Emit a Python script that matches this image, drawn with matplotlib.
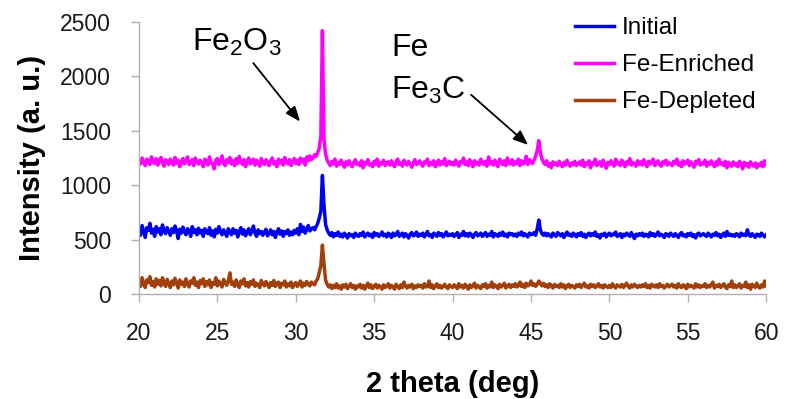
import numpy as np
import matplotlib
matplotlib.use("Agg")
import matplotlib.pyplot as plt

plt.rcParams['font.family'] = ['Liberation Sans', 'DejaVu Sans']
plt.rcParams['mathtext.fontset'] = 'custom'
plt.rcParams['mathtext.rm'] = 'Liberation Sans'
plt.rcParams['mathtext.it'] = 'Liberation Sans:italic'

# ---------------- DATA ----------------
# scan 20..60 deg, 0.1 deg step
two_theta = np.round(np.arange(20.0, 60.05, 0.1), 1)

enriched = [
    1230, 1195, 1250, 1210, 1180, 1240, 1225, 1190, 1260, 1215, 1200, 1245, 1185, 1230, 1255, 1205, 1175, 1235, 1220, 1190,
    1240, 1210, 1185, 1255, 1200, 1230, 1170, 1215, 1245, 1195, 1225, 1260, 1190, 1205, 1235, 1180, 1250, 1215, 1195, 1230,
    1205, 1170, 1240, 1225, 1185, 1260, 1210, 1195, 1150, 1230, 1245, 1190, 1215, 1270, 1200, 1180, 1235, 1210, 1255, 1195,
    1225, 1180, 1245, 1200, 1265, 1215, 1190, 1235, 1170, 1220, 1250, 1195, 1210, 1240, 1185, 1230, 1205, 1175, 1245, 1215,
    1190, 1235, 1210, 1180, 1225, 1250, 1195, 1215, 1170, 1240, 1205, 1230, 1185, 1255, 1210, 1195, 1235, 1180, 1220, 1245,
    1200, 1230, 1190, 1250, 1215, 1240, 1185, 1260, 1225, 1270, 1235, 1250, 1280, 1265, 1300, 1340, 1450, 2420, 1420, 1290,
    1230, 1205, 1180, 1220, 1195, 1240, 1175, 1210, 1190, 1230, 1200, 1165, 1215, 1185, 1225, 1195, 1170, 1210, 1235, 1190,
    1205, 1180, 1225, 1160, 1210, 1195, 1235, 1185, 1200, 1170, 1220, 1190, 1240, 1175, 1210, 1195, 1230, 1180, 1205, 1215,
    1185, 1225, 1195, 1170, 1215, 1240, 1190, 1205, 1175, 1230, 1200, 1185, 1220, 1195, 1165, 1210, 1235, 1190, 1200, 1225,
    1195, 1175, 1215, 1205, 1240, 1180, 1210, 1190, 1225, 1170, 1200, 1230, 1185, 1215, 1195, 1245, 1180, 1205, 1220, 1190,
    1210, 1185, 1230, 1195, 1175, 1220, 1205, 1250, 1190, 1215, 1180, 1235, 1200, 1170, 1225, 1195, 1210, 1185, 1240, 1205,
    1190, 1220, 1175, 1260, 1200, 1215, 1185, 1230, 1195, 1170, 1240, 1210, 1190, 1225, 1180, 1250, 1205, 1195, 1235, 1185,
    1215, 1200, 1240, 1180, 1225, 1195, 1210, 1265, 1190, 1235, 1215, 1200, 1230, 1270, 1320, 1410, 1300, 1240, 1210, 1190,
    1225, 1175, 1200, 1160, 1215, 1190, 1205, 1180, 1220, 1195, 1170, 1210, 1185, 1230, 1195, 1175, 1205, 1190, 1220, 1180,
    1200, 1215, 1185, 1230, 1170, 1205, 1190, 1225, 1160, 1210, 1195, 1240, 1180, 1200, 1215, 1175, 1230, 1195, 1155, 1210,
    1190, 1225, 1200, 1175, 1240, 1195, 1210, 1180, 1230, 1205, 1170, 1215, 1195, 1245, 1185, 1210, 1200, 1175, 1225, 1190,
    1215, 1185, 1235, 1200, 1170, 1220, 1195, 1210, 1240, 1180, 1205, 1225, 1190, 1175, 1215, 1200, 1230, 1185, 1210, 1195,
    1180, 1220, 1200, 1240, 1185, 1210, 1170, 1225, 1195, 1205, 1230, 1180, 1215, 1190, 1165, 1220, 1200, 1235, 1185, 1205,
    1195, 1230, 1175, 1210, 1190, 1225, 1200, 1170, 1215, 1185, 1240, 1195, 1205, 1180, 1220, 1160, 1210, 1190, 1175, 1215,
    1185, 1200, 1170, 1220, 1195, 1150, 1210, 1180, 1200, 1165, 1215, 1190, 1175, 1205, 1160, 1195, 1180, 1210, 1170, 1225,
    1190,
]

initial = [
    600, 540, 630, 575, 520, 610, 585, 650, 560, 595, 530, 620, 570, 600, 545, 635, 580, 555, 610, 575,
    540, 600, 565, 625, 580, 510, 595, 560, 615, 570, 545, 600, 580, 530, 620, 565, 590, 545, 605, 560,
    585, 530, 600, 570, 555, 610, 540, 580, 525, 595, 560, 620, 575, 545, 590, 560, 530, 600, 570, 545,
    600, 560, 585, 525, 575, 610, 550, 590, 535, 570, 600, 545, 580, 625, 560, 530, 590, 555, 575, 540,
    570, 595, 535, 560, 590, 545, 575, 520, 565, 600, 550, 580, 530, 575, 555, 590, 540, 570, 545, 585,
    560, 600, 545, 640, 575, 615, 560, 595, 630, 580, 600, 610, 590, 620, 650, 700, 760, 1090, 820, 640,
    590, 560, 540, 565, 525, 555, 540, 570, 530, 550, 525, 560, 540, 515, 555, 535, 545, 520, 560, 540,
    530, 555, 540, 570, 525, 545, 560, 535, 550, 520, 565, 540, 555, 530, 545, 570, 535, 550, 525, 560,
    545, 520, 560, 535, 550, 575, 530, 545, 560, 525, 555, 540, 515, 550, 565, 535, 545, 570, 530, 550,
    540, 560, 525, 550, 575, 535, 545, 520, 560, 550, 530, 565, 540, 555, 525, 545, 570, 535, 550, 540,
    555, 530, 545, 565, 520, 550, 540, 575, 535, 555, 530, 560, 545, 520, 550, 565, 535, 545, 560, 530,
    545, 565, 530, 550, 540, 575, 525, 555, 545, 530, 560, 540, 570, 535, 550, 525, 560, 545, 555, 535,
    550, 530, 560, 545, 570, 535, 555, 540, 525, 560, 545, 550, 565, 540, 600, 680, 590, 555, 540, 560,
    535, 555, 540, 525, 560, 545, 530, 565, 550, 535, 555, 520, 545, 570, 540, 550, 530, 560, 545, 525,
    555, 540, 565, 530, 550, 520, 545, 560, 535, 555, 540, 570, 530, 545, 515, 550, 540, 560, 525, 545,
    560, 535, 550, 545, 570, 530, 540, 555, 520, 550, 535, 560, 545, 530, 565, 540, 510, 550, 535, 555,
    540, 560, 530, 550, 545, 525, 565, 540, 555, 530, 545, 570, 535, 550, 540, 520, 555, 545, 530, 560,
    545, 530, 555, 540, 520, 550, 565, 535, 545, 525, 555, 540, 560, 530, 545, 515, 550, 560, 535, 545,
    555, 540, 530, 560, 545, 525, 550, 540, 565, 535, 550, 520, 545, 560, 530, 575, 540, 550, 535, 545,
    530, 555, 545, 525, 560, 540, 550, 535, 590, 545, 530, 555, 540, 520, 550, 545, 530, 560, 540, 525,
    545,
]

depleted = [
    120, 70, 150, 95, 60, 130, 105, 160, 80, 115, 65, 140, 90, 125, 75, 150, 100, 70, 135, 95,
    60, 120, 85, 145, 100, 55, 130, 90, 110, 70, 140, 95, 65, 120, 100, 150, 80, 110, 60, 125,
    95, 140, 70, 115, 85, 130, 60, 105, 90, 150, 75, 120, 95, 65, 135, 100, 80, 125, 195, 90,
    110, 70, 130, 85, 60, 120, 95, 140, 75, 105, 65, 115, 90, 130, 70, 100, 85, 60, 125, 95,
    75, 115, 90, 60, 105, 80, 125, 70, 95, 110, 60, 100, 85, 120, 65, 95, 75, 110, 60, 90,
    105, 70, 95, 120, 65, 100, 80, 115, 90, 75, 110, 95, 85, 120, 140, 200, 260, 450, 280, 130,
    90, 65, 85, 50, 80, 60, 95, 55, 75, 45, 85, 65, 90, 50, 70, 95, 60, 80, 45, 75,
    65, 90, 55, 80, 45, 75, 100, 60, 85, 50, 70, 90, 55, 80, 65, 45, 85, 60, 75, 95,
    55, 80, 65, 45, 90, 70, 50, 85, 60, 110, 75, 55, 80, 65, 90, 50, 75, 60, 85, 70,
    80, 55, 95, 65, 70, 120, 60, 85, 50, 75, 95, 60, 80, 55, 70, 90, 65, 50, 85, 70,
    60, 85, 70, 50, 95, 65, 80, 55, 90, 70, 45, 85, 60, 75, 100, 55, 80, 65, 50, 85,
    70, 95, 55, 80, 65, 110, 60, 85, 75, 50, 90, 65, 80, 100, 55, 75, 90, 60, 85, 70,
    95, 65, 80, 110, 70, 90, 60, 100, 75, 85, 120, 80, 95, 70, 90, 120, 95, 75, 100, 70,
    85, 60, 95, 75, 55, 90, 70, 80, 60, 95, 65, 85, 50, 75, 90, 60, 80, 70, 55, 85,
    70, 90, 60, 80, 100, 65, 75, 55, 90, 70, 85, 60, 75, 95, 65, 80, 55, 85, 70, 60,
    80, 60, 95, 70, 55, 85, 75, 65, 90, 60, 80, 100, 70, 55, 85, 65, 90, 75, 60, 80,
    65, 85, 70, 95, 60, 80, 55, 90, 75, 65, 85, 60, 95, 70, 80, 55, 75, 90, 65, 80,
    90, 65, 80, 55, 95, 70, 60, 85, 75, 50, 90, 65, 80, 70, 55, 95, 65, 85, 60, 75,
    70, 95, 60, 80, 65, 85, 110, 55, 80, 70, 90, 60, 75, 95, 65, 50, 85, 70, 120, 60,
    85, 60, 75, 95, 55, 80, 70, 110, 60, 85, 45, 90, 75, 60, 100, 70, 55, 85, 65, 120,
    75,
]

series_names = ["Initial", "Fe-Enriched", "Fe-Depleted"]
series_colors = ["#0000F0", "#FF00FF", "#A0400C"]

# ---------------- PLOT ----------------
fig = plt.figure(figsize=(7.85, 3.99), dpi=100)
ax = fig.add_axes([0.177, 0.263, 0.799, 0.682])

for values, name, color in zip([initial, enriched, depleted], series_names, series_colors):
    ax.plot(two_theta, values, color=color, lw=2.5, label=name, solid_joinstyle='round')

ax.set_xlim(20, 60)
ax.set_ylim(0, 2500)
ax.set_xticks(range(20, 61, 5))
ax.set_yticks(range(0, 2501, 500))

for side in ['top', 'right']:
    ax.spines[side].set_visible(False)
for side in ['left', 'bottom']:
    ax.spines[side].set_color('#B0B0B0')
    ax.spines[side].set_linewidth(1.0)

ax.tick_params(axis='both', colors='#B0B0B0', labelcolor='#1A1A1A',
               length=6, width=1.0, labelsize=16.5, pad=14)

ax.set_xlabel("2 theta (deg)", fontsize=21, fontweight='bold', labelpad=18)
ax.set_ylabel("Intensity (a. u.)", fontsize=21, fontweight='bold', labelpad=10)

# peak labels
arrow = dict(arrowstyle='-|>,head_length=0.5,head_width=0.2', color='black',
             lw=1.3, mutation_scale=18, shrinkA=2, shrinkB=0)

ax.annotate("Fe$_\\mathregular{2}$O$_\\mathregular{3}$", xy=(30.27, 1585), xytext=(26.25, 2310),
            ha='center', va='center', fontsize=23, arrowprops=arrow)

ax.text(36.1, 2260, "Fe", ha='left', va='center', fontsize=23)
ax.annotate("Fe$_\\mathregular{3}$C", xy=(44.82, 1370), xytext=(36.1, 1870),
            ha='left', va='center', fontsize=23,
            arrowprops=dict(arrow, relpos=(1.0, 0.5)))

leg = ax.legend(loc='upper left', bbox_to_anchor=(0.732, 0.957),
                bbox_transform=fig.transFigure, frameon=False, fontsize=17.5,
                handlelength=1.6, handletextpad=0.35, labelspacing=0.62,
                borderpad=0, borderaxespad=0)
for line in leg.get_lines():
    line.set_linewidth(2.5)

fig.savefig("out.png", dpi=100)
